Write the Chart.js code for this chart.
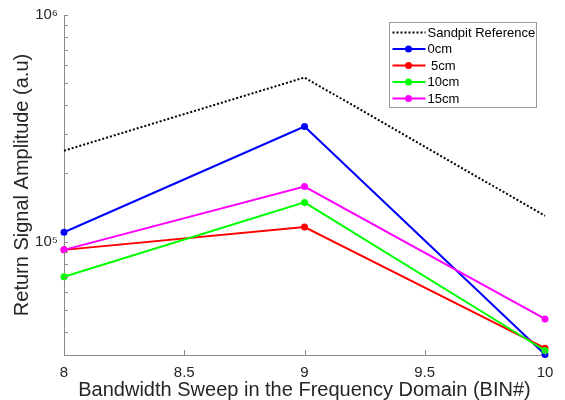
<!DOCTYPE html>
<html>
<head>
<meta charset="utf-8">
<script src="https://cdn.jsdelivr.net/npm/chart.js@4.4.1/dist/chart.umd.min.js"></script>
<style>
  html, body { margin: 0; padding: 0; background: #fff; }
  #wrap { position: relative; width: 565px; height: 400px; }
</style>
</head>
<body>
<div id="wrap"><canvas id="chart" width="565" height="400"></canvas></div>
<script>
// bandwidth bins on the x axis
const bins = [8, 9, 10];

// return signal amplitude (a.u)
const sandpitRef = [252000, 530000, 130000];
const cm0 = [110000, 322000, 31800];
const cm5 = [92000, 116000, 33900];
const cm10 = [70000, 149000, 33100];
const cm15 = [92000, 175000, 45600];

const xTicks = [8, 8.5, 9, 9.5, 10];
const yMajorTicks = [1e5, 1e6];
const yMinorTicks = [4e4, 5e4, 6e4, 7e4, 8e4, 9e4, 2e5, 3e5, 4e5, 5e5, 6e5, 7e5, 8e5, 9e5];
const yLabels = { 100000: '10\u2075', 1000000: '10\u2076' };

const FONT = '"Liberation Sans", Arial, Helvetica, sans-serif';
const AXIS_GRAY = '#8a8a8a';
const TEXT = '#262626';

const toPoints = (vals) => bins.map((b, i) => ({ x: b, y: vals[i] }));

const series = [
  { label: 'Sandpit Reference', data: sandpitRef, color: '#000000', dotted: true },
  { label: '0cm', data: cm0, color: '#0000ff' },
  { label: ' 5cm', data: cm5, color: '#ff0000' },
  { label: '10cm', data: cm10, color: '#00ff00' },
  { label: '15cm', data: cm15, color: '#ff00ff' },
];

// inside-pointing tick marks like the original figure
const insideTicks = {
  id: 'insideTicks',
  afterDatasetsDraw(chart) {
    const { ctx, chartArea, scales } = chart;
    ctx.save();
    ctx.strokeStyle = AXIS_GRAY;
    ctx.lineWidth = 1;
    ctx.beginPath();
    scales.x.ticks.forEach((t) => {
      const px = Math.round(scales.x.getPixelForValue(t.value)) + 0.5;
      ctx.moveTo(px, chartArea.bottom);
      ctx.lineTo(px, chartArea.bottom - 5);
    });
    scales.y.ticks.forEach((t) => {
      const py = Math.round(scales.y.getPixelForValue(t.value)) + 0.5;
      ctx.moveTo(chartArea.left, py);
      ctx.lineTo(chartArea.left + 4, py);
    });
    ctx.stroke();
    ctx.restore();
  },
};

// legend box drawn inside the plot, top right
const boxLegend = {
  id: 'boxLegend',
  afterDraw(chart) {
    const { ctx } = chart;
    const x0 = 389.5, y0 = 22.5, w = 147, h = 85, rowH = 16.5;
    ctx.save();
    ctx.fillStyle = '#fff';
    ctx.fillRect(x0, y0, w, h);
    ctx.strokeStyle = '#9a9a9a';
    ctx.lineWidth = 1;
    ctx.strokeRect(x0, y0, w, h);
    ctx.font = '13px ' + FONT;
    ctx.textBaseline = 'middle';
    chart.data.datasets.forEach((ds, i) => {
      const y = y0 + 10 + i * rowH;
      ctx.strokeStyle = ds.borderColor;
      ctx.lineWidth = 2;
      ctx.setLineDash(ds.borderDash || []);
      ctx.beginPath();
      ctx.moveTo(x0 + 3, y);
      ctx.lineTo(x0 + 36, y);
      ctx.stroke();
      ctx.setLineDash([]);
      if (ds.pointRadius > 0) {
        ctx.fillStyle = ds.pointBackgroundColor;
        ctx.beginPath();
        ctx.arc(x0 + 19, y, 3.5, 0, Math.PI * 2);
        ctx.fill();
      }
      ctx.fillStyle = '#000';
      ctx.fillText(ds.label, x0 + 38, y + 0.5);
    });
    ctx.restore();
  },
};

new Chart(document.getElementById('chart'), {
  type: 'line',
  data: {
    datasets: series.map((s, i) => ({
      label: s.label,
      data: toPoints(s.data),
      borderColor: s.color,
      backgroundColor: s.color,
      pointBackgroundColor: s.color,
      pointBorderColor: s.color,
      borderWidth: 2,
      borderDash: s.dotted ? [2, 2] : [],
      pointRadius: s.dotted ? 0 : 3.5,
      pointBorderWidth: 0,
      tension: 0,
      clip: false,
      order: series.length - i,
    })),
  },
  options: {
    responsive: false,
    animation: false,
    events: [],
    layout: { padding: { left: 0, right: 20, top: 14, bottom: 0 } },
    plugins: {
      legend: { display: false },
      tooltip: { enabled: false },
    },
    scales: {
      x: {
        type: 'linear',
        min: 8,
        max: 10,
        afterBuildTicks: (scale) => {
          scale.ticks = xTicks.map((v) => ({ value: v }));
        },
        afterFit: (scale) => { scale.height = 45; },
        grid: { display: false, drawTicks: false },
        border: { display: true, color: AXIS_GRAY, width: 1 },
        ticks: {
          color: TEXT,
          font: { family: FONT, size: 15 },
          padding: 9,
          maxRotation: 0,
          autoSkip: false,
          callback: (v) => String(v),
        },
        title: {
          display: true,
          text: 'Bandwidth Sweep in the Frequency Domain (BIN#)',
          color: TEXT,
          font: { family: FONT, size: 20, lineHeight: 1 },
          padding: { top: 0, bottom: 0 },
        },
      },
      y: {
        type: 'logarithmic',
        min: Math.pow(10, 4.5),
        max: 1e6,
        afterBuildTicks: (scale) => {
          scale.ticks = [...yMinorTicks, ...yMajorTicks]
            .sort((a, b) => a - b)
            .map((v) => ({ value: v }));
        },
        afterFit: (scale) => { scale.width = 64; },
        grid: { display: false, drawTicks: false },
        border: { display: true, color: AXIS_GRAY, width: 1 },
        ticks: {
          color: TEXT,
          font: { family: FONT, size: 15 },
          padding: 6,
          autoSkip: false,
          callback: (v) => yLabels[v] || '',
        },
        title: {
          display: true,
          text: 'Return Signal Amplitude (a.u)',
          color: TEXT,
          font: { family: FONT, size: 20, lineHeight: 1 },
          padding: { top: 12, bottom: 0 },
        },
      },
    },
  },
  plugins: [insideTicks, boxLegend],
});
</script>
</body>
</html>
